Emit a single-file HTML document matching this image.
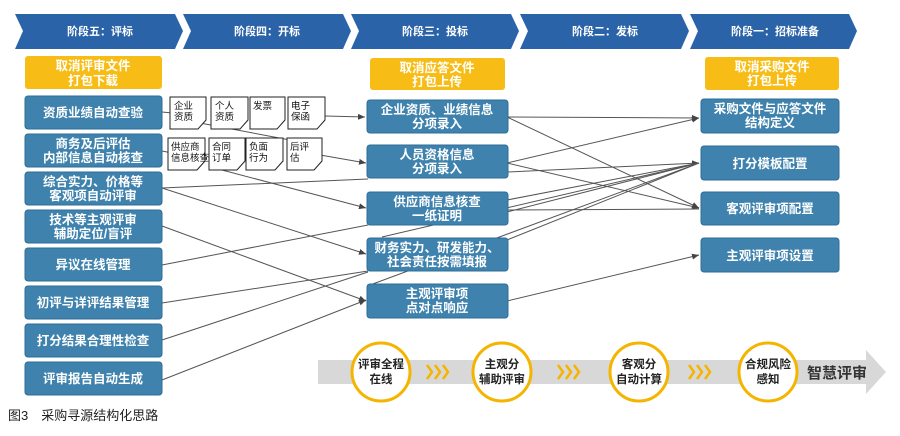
<!DOCTYPE html>
<html><head><meta charset="utf-8"><style>
body{margin:0;background:#fff;}
svg{display:block;font-family:"Liberation Sans","Noto Sans CJK SC",sans-serif;}
.b{fill:#3e82ad;stroke:#2d6d98;stroke-width:1}
.y{fill:#f7bd16}
.t{fill:#fff;font-size:12.5px;font-weight:bold;text-anchor:middle}
.h{fill:#fff;font-size:11px;font-weight:bold;text-anchor:middle}
.d{font-size:9.5px;fill:#111}
.l{stroke:#555;stroke-width:1;fill:none}
</style></head><body>
<svg width="900" height="436" viewBox="0 0 900 436">
<defs><marker id="a" markerWidth="8" markerHeight="8" refX="7" refY="4" orient="auto"><path d="M0,1 L7,4 L0,7 z" fill="#444"/></marker></defs>
<g fill="#2a63a8">
<polygon points="15,14 175,14 183,31 175,49 15,49 23,31"/>
<polygon points="183,14 343,14 351,31 343,49 183,49 191,31"/>
<polygon points="351,14 511,14 519,31 511,49 351,49 359,31"/>
<polygon points="520,14 681,14 689,31 681,49 520,49 528,31"/>
<polygon points="690,14 849,14 857,31 849,49 690,49 698,31"/>
</g>
<text class="h" x="100" y="35">阶段五：评标</text>
<text class="h" x="267" y="35">阶段四：开标</text>
<text class="h" x="435" y="35">阶段三：投标</text>
<text class="h" x="605" y="35">阶段二：发标</text>
<text class="h" x="775" y="35">阶段一：招标准备</text>
<g class="l">
<line x1="162" y1="112" x2="172" y2="113"/>
<line x1="325" y1="116" x2="365" y2="117" marker-end="url(#a)"/>
<line x1="200" y1="123" x2="290" y2="140"/>
<line x1="303" y1="152" x2="366" y2="163" marker-end="url(#a)"/>
<line x1="162" y1="151" x2="172" y2="153"/>
<line x1="222" y1="170" x2="366" y2="208" marker-end="url(#a)"/>
<line x1="162" y1="188" x2="368" y2="179"/>
<line x1="162" y1="188" x2="366" y2="254" marker-end="url(#a)"/>
<line x1="162" y1="226" x2="366" y2="301" marker-end="url(#a)"/>
<line x1="162" y1="265" x2="368" y2="225"/>
<line x1="162" y1="303" x2="368" y2="271"/>
<line x1="162" y1="340" x2="368" y2="272"/>
<line x1="162" y1="380" x2="366" y2="300" marker-end="url(#a)"/>
<line x1="507" y1="117" x2="699" y2="118" marker-end="url(#a)"/>
<line x1="507" y1="117" x2="699" y2="208" marker-end="url(#a)"/>
<line x1="507" y1="163" x2="699" y2="118" marker-end="url(#a)"/>
<line x1="507" y1="172" x2="699" y2="163" marker-end="url(#a)"/>
<line x1="507" y1="163" x2="699" y2="208" marker-end="url(#a)"/>
<line x1="507" y1="200" x2="699" y2="163"/>
<line x1="507" y1="212" x2="699" y2="163"/>
<line x1="507" y1="210" x2="699" y2="209"/>
<line x1="507" y1="240" x2="699" y2="163"/>
<line x1="382" y1="237" x2="699" y2="163"/>
<line x1="370" y1="285" x2="699" y2="163"/>
<line x1="507" y1="301" x2="699" y2="255" marker-end="url(#a)"/>
</g>
<rect class="y" x="25" y="56" width="137" height="33" rx="3"/>
<text class="t" x="93" y="70">取消评审文件</text><text class="t" x="93" y="85">打包下载</text>
<g>
<rect class="b" x="25" y="96" width="137" height="33" rx="3"/><text class="t" x="93" y="117">资质业绩自动查验</text>
<rect class="b" x="25" y="134" width="137" height="33" rx="3"/><text class="t" x="93" y="148">商务及后评估</text><text class="t" x="93" y="162">内部信息自动核查</text>
<rect class="b" x="25" y="172" width="137" height="33" rx="3"/><text class="t" x="93" y="186">综合实力、价格等</text><text class="t" x="93" y="200">客观项自动评审</text>
<rect class="b" x="25" y="210" width="137" height="33" rx="3"/><text class="t" x="93" y="224">技术等主观评审</text><text class="t" x="93" y="238">辅助定位/盲评</text>
<rect class="b" x="25" y="248" width="137" height="33" rx="3"/><text class="t" x="93" y="269">异议在线管理</text>
<rect class="b" x="25" y="286" width="137" height="33" rx="3"/><text class="t" x="93" y="307">初评与详评结果管理</text>
<rect class="b" x="25" y="324" width="137" height="33" rx="3"/><text class="t" x="93" y="345">打分结果合理性检查</text>
<rect class="b" x="25" y="362" width="137" height="33" rx="3"/><text class="t" x="93" y="383">评审报告自动生成</text>
</g>
<g fill="#fff" stroke="#222" stroke-width="1">
<path d="M170,97 H206 V120 L198,129 H170 Z"/><path d="M211,97 H248 V120 L240,129 H211 Z"/>
<path d="M250,97 H285 V120 L277,129 H250 Z"/><path d="M288,97 H325 V120 L317,129 H288 Z"/>
<path d="M168,138 H205 V161 L197,170 H168 Z"/><path d="M209,138 H245 V161 L237,170 H209 Z"/>
<path d="M246,138 H283 V161 L275,170 H246 Z"/><path d="M287,138 H322 V161 L314,170 H287 Z"/>
</g>
<g class="d">
<text x="174" y="109">企业</text><text x="174" y="120">资质</text>
<text x="215" y="109">个人</text><text x="215" y="120">资质</text>
<text x="253" y="109">发票</text>
<text x="291" y="109">电子</text><text x="291" y="120">保函</text>
<text x="171" y="150">供应商</text><text x="171" y="161">信息核查</text>
<text x="212" y="150">合同</text><text x="212" y="161">订单</text>
<text x="249" y="150">负面</text><text x="249" y="161">行为</text>
<text x="290" y="150">后评</text><text x="290" y="161">估</text>
</g>
<rect class="y" x="370" y="58" width="135" height="32" rx="3"/>
<text class="t" x="437" y="72">取消应答文件</text><text class="t" x="437" y="86">打包上传</text>
<rect class="b" x="367" y="100" width="141" height="33" rx="3"/><text class="t" x="437" y="114">企业资质、业绩信息</text><text class="t" x="437" y="128">分项录入</text>
<rect class="b" x="367" y="145" width="141" height="33" rx="3"/><text class="t" x="437" y="159">人员资格信息</text><text class="t" x="437" y="173">分项录入</text>
<rect class="b" x="367" y="192" width="141" height="33" rx="3"/><text class="t" x="437" y="206">供应商信息核查</text><text class="t" x="437" y="220">一纸证明</text>
<rect class="b" x="367" y="238" width="141" height="33" rx="3"/><text class="t" x="437" y="252">财务实力、研发能力、</text><text class="t" x="437" y="266">社会责任按需填报</text>
<rect class="b" x="367" y="284" width="141" height="34" rx="3"/><text class="t" x="437" y="298">主观评审项</text><text class="t" x="437" y="312">点对点响应</text>
<rect class="y" x="705" y="57" width="134" height="33" rx="3"/>
<text class="t" x="772" y="71">取消采购文件</text><text class="t" x="772" y="85">打包上传</text>
<rect class="b" x="701" y="99" width="138" height="34" rx="3"/><text class="t" x="770" y="113">采购文件与应答文件</text><text class="t" x="770" y="127">结构定义</text>
<rect class="b" x="701" y="146" width="138" height="34" rx="3"/><text class="t" x="770" y="168">打分模板配置</text>
<rect class="b" x="701" y="192" width="138" height="33" rx="3"/><text class="t" x="770" y="213">客观评审项配置</text>
<rect class="b" x="701" y="238" width="138" height="34" rx="3"/><text class="t" x="770" y="260">主观评审项设置</text>
<polygon points="318,360 866,360 866,350 886,372 866,394 866,384 318,384" fill="#d8d8d8"/>
<g fill="none" stroke="#f4b400" stroke-width="2.5">
<path d="M427,365 l5,7 -5,7 M435,365 l5,7 -5,7 M443,365 l5,7 -5,7"/>
<path d="M558,365 l5,7 -5,7 M566,365 l5,7 -5,7 M574,365 l5,7 -5,7"/>
<path d="M689,365 l5,7 -5,7 M697,365 l5,7 -5,7 M705,365 l5,7 -5,7"/>
</g>
<g fill="#fff" stroke="#f4b400" stroke-width="3">
<circle cx="381" cy="372" r="29"/><circle cx="502" cy="372" r="29"/>
<circle cx="639" cy="372" r="29"/><circle cx="768" cy="372" r="29"/>
</g>
<g font-size="11.5" fill="#222" text-anchor="middle" font-weight="bold">
<text x="381" y="368">评审全程</text><text x="381" y="383">在线</text>
<text x="502" y="368">主观分</text><text x="502" y="383">辅助评审</text>
<text x="639" y="368">客观分</text><text x="639" y="383">自动计算</text>
<text x="768" y="368">合规风险</text><text x="768" y="383">感知</text>
</g>
<text x="807" y="378" font-size="15" font-weight="bold" fill="#333">智慧评审</text>
<text x="8" y="420" font-size="13" fill="#222">图3　采购寻源结构化思路</text>
</svg>
</body></html>
